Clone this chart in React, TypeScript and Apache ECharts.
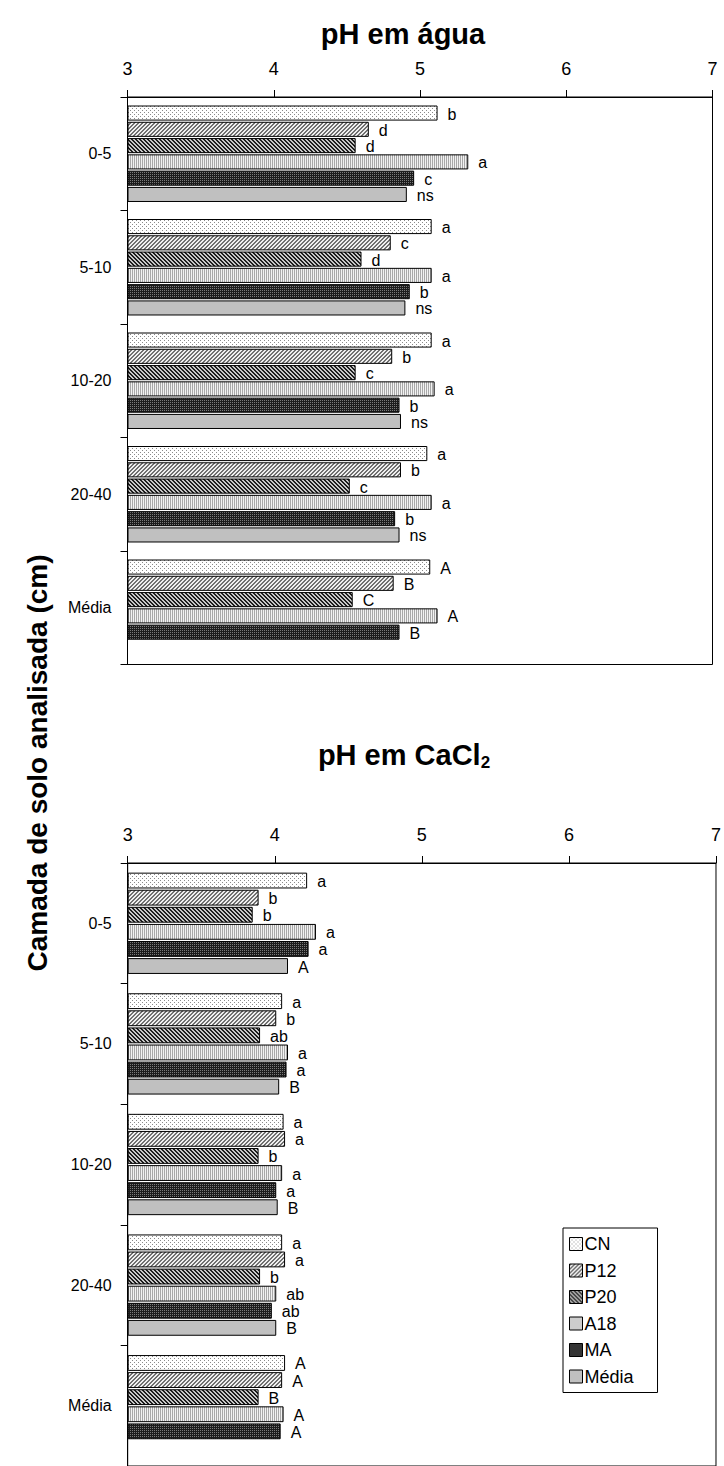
import React, { useEffect, useRef } from "react";
import * as echarts from "echarts";

const categories = ["0-5", "5-10", "10-20", "20-40", "Média"];
const seriesNames = ["CN", "P12", "P20", "A18", "MA", "Média"];
const xTicks = [3, 4, 5, 6, 7];

// pH em água
const aguaCN = [5.12, 5.08, 5.08, 5.05, 5.07];
const aguaP12 = [4.65, 4.8, 4.81, 4.87, 4.82];
const aguaP20 = [4.56, 4.6, 4.56, 4.52, 4.54];
const aguaA18 = [5.33, 5.08, 5.1, 5.08, 5.12];
const aguaMA = [4.96, 4.93, 4.86, 4.83, 4.86];
const aguaMedia = [4.91, 4.9, 4.87, 4.86, null];

const aguaCNLab = ["b", "a", "a", "a", "A"];
const aguaP12Lab = ["d", "c", "b", "b", "B"];
const aguaP20Lab = ["d", "d", "c", "c", "C"];
const aguaA18Lab = ["a", "a", "a", "a", "A"];
const aguaMALab = ["c", "b", "b", "b", "B"];
const aguaMediaLab = ["ns", "ns", "ns", "ns", ""];

// pH em CaCl2
const caclCN = [4.22, 4.05, 4.06, 4.05, 4.07];
const caclP12 = [3.89, 4.01, 4.07, 4.07, 4.05];
const caclP20 = [3.85, 3.9, 3.89, 3.9, 3.89];
const caclA18 = [4.28, 4.09, 4.05, 4.01, 4.06];
const caclMA = [4.23, 4.08, 4.01, 3.98, 4.04];
const caclMedia = [4.09, 4.03, 4.02, 4.01, null];

const caclCNLab = ["a", "a", "a", "a", "A"];
const caclP12Lab = ["b", "b", "a", "a", "A"];
const caclP20Lab = ["b", "ab", "b", "b", "B"];
const caclA18Lab = ["a", "a", "a", "ab", "A"];
const caclMALab = ["a", "a", "a", "ab", "A"];
const caclMediaLab = ["A", "B", "B", "B", ""];

const FONT = "'Liberation Sans', Arial, sans-serif";

function makeTile(size: number, bg: string, fg: string, fn: (x: number, y: number) => boolean) {
  const c = document.createElement("canvas");
  c.width = size;
  c.height = size;
  const ctx = c.getContext("2d")!;
  ctx.fillStyle = bg;
  ctx.fillRect(0, 0, size, size);
  ctx.fillStyle = fg;
  for (let y = 0; y < size; y++) {
    for (let x = 0; x < size; x++) {
      if (fn(x, y)) ctx.fillRect(x, y, 1, 1);
    }
  }
  return { image: c.toDataURL(), repeat: "repeat", imageWidth: size, imageHeight: size };
}

export default function App() {
  const ref = useRef<HTMLDivElement>(null);
  useEffect(() => {
    document.body.style.margin = "0";
    if (!ref.current) return;
    const chart = echarts.init(ref.current, null, { renderer: "svg" });

    const patterns: any[] = [
      makeTile(4, "#ffffff", "#8a8a8a", (x, y) => (x === 0 && y === 0) || (x === 2 && y === 2)),
      makeTile(4, "#f0f0f0", "#707070", (x, y) => (x + y) % 4 === 0 || (x + y) % 4 === 1),
      makeTile(4, "#c8c8c8", "#1e1e1e", (x, y) => ((x - y + 8) % 4) < 2),
      makeTile(2, "#f2f2f2", "#a8a8a8", (x, y) => x === 0),
      makeTile(2, "#1c1c1c", "#7a7a7a", (x, y) => x === 0 && y === 0),
      "#c0c0c0",
    ];

    const aguaVals = [aguaCN, aguaP12, aguaP20, aguaA18, aguaMA, aguaMedia];
    const aguaLabs = [aguaCNLab, aguaP12Lab, aguaP20Lab, aguaA18Lab, aguaMALab, aguaMediaLab];
    const caclVals = [caclCN, caclP12, caclP20, caclA18, caclMA, caclMedia];
    const caclLabs = [caclCNLab, caclP12Lab, caclP20Lab, caclA18Lab, caclMALab, caclMediaLab];

    const mkSeries = (vals: any[], labs: string[], i: number, axisIndex: number, catGap: string) => ({
      type: "bar",
      name: seriesNames[i],
      xAxisIndex: axisIndex,
      yAxisIndex: axisIndex,
      data: vals,
      barCategoryGap: catGap,
      barGap: "8%",
      itemStyle: { color: patterns[i], borderColor: "#000", borderWidth: 1 },
      label: {
        show: true,
        position: "right",
        distance: 10,
        offset: [0, 1],
        fontSize: 16,
        lineHeight: 14,
        fontFamily: FONT,
        color: "#000",
        formatter: (p: any) => labs[p.dataIndex] || "",
      },
    });

    const series: any[] = [];
    for (let i = 0; i < 6; i++) series.push(mkSeries(aguaVals[i], aguaLabs[i], i, 0, "15%"));
    for (let i = 0; i < 6; i++) series.push(mkSeries(caclVals[i], caclLabs[i], i, 1, "16%"));

    const mkX = (gi: number) => ({
      gridIndex: gi,
      type: "value",
      position: "top",
      min: xTicks[0],
      max: xTicks[xTicks.length - 1],
      interval: 1,
      startValue: xTicks[0],
      axisLine: { show: true, lineStyle: { color: "#000", width: 1 } },
      axisTick: { show: true, length: 7, lineStyle: { color: "#000" } },
      axisLabel: { fontSize: 18, fontFamily: FONT, color: "#000", margin: 19 },
      splitLine: { show: false },
    });
    const mkY = (gi: number) => ({
      gridIndex: gi,
      type: "category",
      data: categories,
      inverse: true,
      axisLine: { show: true, lineStyle: { color: "#000", width: 1 } },
      axisTick: { show: true, length: 7, lineStyle: { color: "#000" } },
      axisLabel: { fontSize: 16, fontFamily: FONT, color: "#000", margin: 16 },
    });

    chart.setOption({
      animation: false,
      backgroundColor: "#fff",
      grid: [
        { left: 127.5, top: 97, width: 585, height: 567.5, show: true, borderColor: "#000", borderWidth: 1, backgroundColor: "transparent" },
        { left: 127.7, top: 863, width: 592.3, height: 605, show: true, borderColor: "#000", borderWidth: 1, backgroundColor: "transparent" },
      ],
      xAxis: [mkX(0), mkX(1)],
      yAxis: [mkY(0), mkY(1)],
      legend: {
        data: seriesNames,
        orient: "vertical",
        left: 563,
        top: 1228,
        icon: "rect",
        itemWidth: 13,
        itemHeight: 13,
        itemGap: 8.5,
        padding: [7, 24, 7, 6],
        backgroundColor: "#fff",
        borderColor: "#000",
        borderWidth: 1,
        borderRadius: 0,
        itemStyle: { borderColor: "#000", borderWidth: 1 },
        textStyle: { fontSize: 18, fontFamily: FONT, color: "#000", padding: [0, 0, 0, -3] },
      },
      graphic: [
        {
          type: "text",
          x: 403,
          y: 34,
          style: { text: "pH em água", font: `bold 29px ${FONT}`, fill: "#000", textAlign: "center", textVerticalAlign: "middle" },
        },
        {
          type: "text",
          x: 404,
          y: 755,
          style: {
            text: "{a|pH em CaCl}{s|2}",
            fill: "#000",
            textAlign: "center",
            textVerticalAlign: "middle",
            rich: {
              a: { fontSize: 29, fontWeight: "bold", fontFamily: FONT, lineHeight: 32 },
              s: { fontSize: 17, fontWeight: "bold", fontFamily: FONT, lineHeight: 15, verticalAlign: "bottom" },
            },
          },
        },
        {
          type: "text",
          x: 37,
          y: 763,
          rotation: Math.PI / 2,
          style: {
            text: "Camada de solo analisada (cm)",
            font: `bold 28px ${FONT}`,
            fill: "#000",
            textAlign: "center",
            textVerticalAlign: "middle",
          },
        },
      ],
      series,
    });
    return () => chart.dispose();
  }, []);
  return <div ref={ref} style={{ width: 724, height: 1466 }} />;
}
